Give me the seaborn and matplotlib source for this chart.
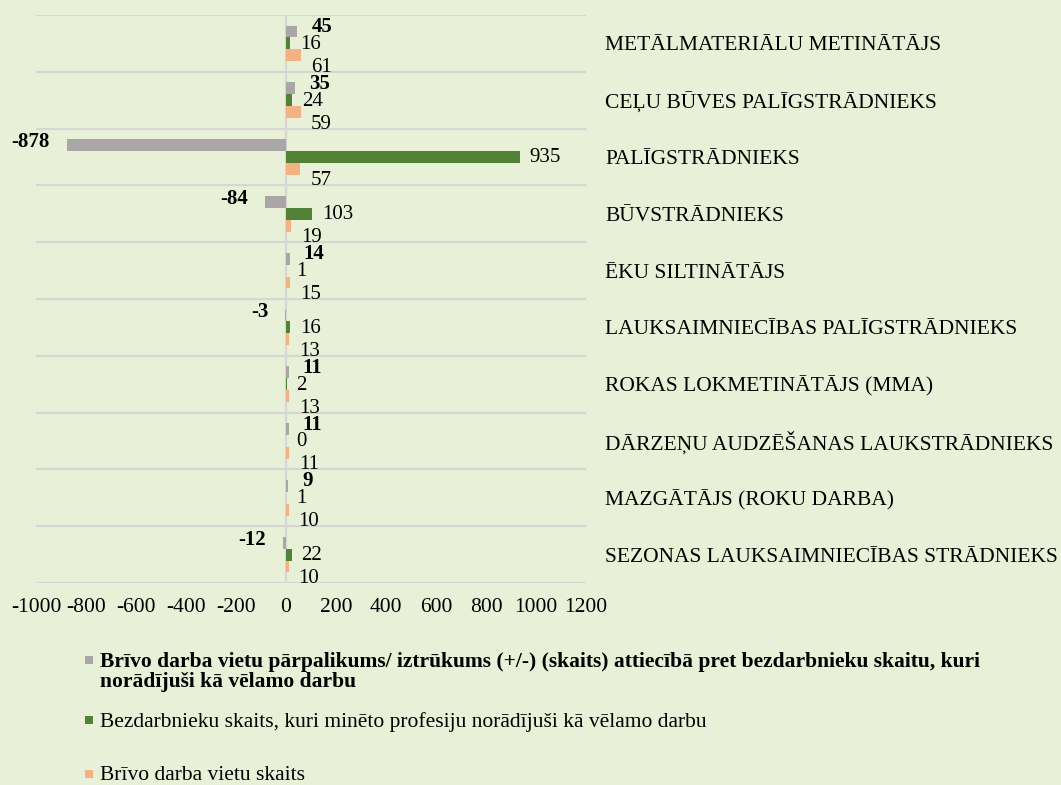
import matplotlib
matplotlib.use("Agg")
import matplotlib.pyplot as plt
import seaborn as sns
import pandas as pd
import numpy as np
from matplotlib.patches import Rectangle

categories = [
    "METĀLMATERIĀLU METINĀTĀJS",
    "CEĻU BŪVES PALĪGSTRĀDNIEKS",
    "PALĪGSTRĀDNIEKS",
    "BŪVSTRĀDNIEKS",
    "ĒKU SILTINĀTĀJS",
    "LAUKSAIMNIECĪBAS PALĪGSTRĀDNIEKS",
    "ROKAS LOKMETINĀTĀJS (MMA)",
    "DĀRZEŅU AUDZĒŠANAS LAUKSTRĀDNIEKS",
    "MAZGĀTĀJS (ROKU DARBA)",
    "SEZONAS LAUKSAIMNIECĪBAS STRĀDNIEKS",
]
surplus = [45, 35, -878, -84, 14, -3, 11, 11, 9, -12]
unemployed = [16, 24, 935, 103, 1, 16, 2, 0, 1, 22]
vacancies = [61, 59, 57, 19, 15, 13, 13, 11, 10, 10]

series_names = [
    "Brīvo darba vietu pārpalikums/ iztrūkums (+/-) (skaits) attiecībā pret bezdarbnieku skaitu, kuri\nnorādījuši kā vēlamo darbu",
    "Bezdarbnieku skaits, kuri minēto profesiju norādījuši kā vēlamo darbu",
    "Brīvo darba vietu skaits",
]
xticks = [-1000, -800, -600, -400, -200, 0, 200, 400, 600, 800, 1000, 1200]

colors = ["#AAA6A6", "#538135", "#F4B183"]
bg = "#E8F1D7"
gridc = "#D6D6D6"
FS = 15.5
LFS = 15

rows = []
for vals, s in zip([surplus, unemployed, vacancies], series_names):
    for c, v in zip(categories, vals):
        rows.append({"cat": c, "val": v, "series": s})
df = pd.DataFrame(rows)

sns.set_style("white")
plt.rcParams["font.family"] = ["Liberation Serif", "DejaVu Serif"]
plt.rcParams["text.color"] = "black"
plt.rcParams["xtick.color"] = "black"
plt.rcParams["ytick.color"] = "black"

W, H = 1061, 785
fig = plt.figure(figsize=(W / 100, H / 100), dpi=100, facecolor=bg)
ax = fig.add_axes([36 / W, 1 - 583 / H, 550 / W, 568 / H])
ax.set_facecolor(bg)

sns.barplot(data=df, y="cat", x="val", hue="series", orient="h",
            palette=colors, width=0.63, dodge=True, ax=ax, legend=False,
            saturation=1, order=categories, hue_order=series_names,
            linewidth=0, edgecolor="none")

ax.set_xlim(-1000, 1200)
ax.set_ylim(len(categories) - 0.5, -0.5)
ax.set_xticks(xticks)
ax.set_xticklabels([str(t) for t in xticks], fontsize=FS)
ax.yaxis.tick_right()
ax.set_yticks(range(len(categories)))
ax.set_yticklabels(categories, fontsize=FS)
ax.tick_params(axis="y", length=0, pad=14, labelcolor="black")
ax.tick_params(axis="x", length=0, pad=11, labelcolor="black")
ax.set_yticks(np.arange(-0.5, len(categories), 1.0), minor=True)
ax.tick_params(axis="y", which="minor", length=0)
ax.grid(False)
ax.grid(True, which="minor", axis="y", color=gridc, linewidth=1.6)
ax.axvline(0, color=gridc, linewidth=1.6, zorder=0.5)
for sp in ax.spines.values():
    sp.set_visible(False)
ax.set_xlabel("")
ax.set_ylabel("")

px = 0.72  # points per pixel
for i, cont in enumerate(ax.containers):
    for bar in cont:
        w = bar.get_width()
        yc = bar.get_y() + bar.get_height() / 2
        lab = f"{int(round(w))}"
        if i == 0:
            if w >= 0:
                ax.annotate(lab, (w, yc), xytext=(14 * px, 4.5 * px), textcoords="offset points",
                            ha="left", va="center", fontsize=LFS, fontweight="bold", color="black")
            else:
                ax.annotate(lab, (w, yc), xytext=(-17 * px, 3 * px), textcoords="offset points",
                            ha="right", va="center", fontsize=LFS, fontweight="bold", color="black")
        elif i == 1:
            ax.annotate(lab, (max(w, 0), yc), xytext=(10 * px, -1 * px), textcoords="offset points",
                        ha="left", va="center", fontsize=LFS, color="black")
        else:
            ax.annotate(lab, (max(w, 0), yc), xytext=(10 * px, -12 * px), textcoords="offset points",
                        ha="left", va="center", fontsize=LFS, color="black")

# legend below the chart
leg_y = [660, 720, 774]
for name, c, y, wt in zip(series_names, colors, leg_y, ["bold", "normal", "normal"]):
    fig.add_artist(Rectangle((85 / W, 1 - (y + 4) / H), 8 / W, 8 / H,
                             transform=fig.transFigure, facecolor=c, edgecolor="none"))
    fig.text(100 / W, 1 - (y - 8) / H, name, ha="left", va="top", fontsize=FS,
             fontweight=wt, linespacing=1.0, color="black")

fig.savefig("out.png", dpi=100, facecolor=bg)
